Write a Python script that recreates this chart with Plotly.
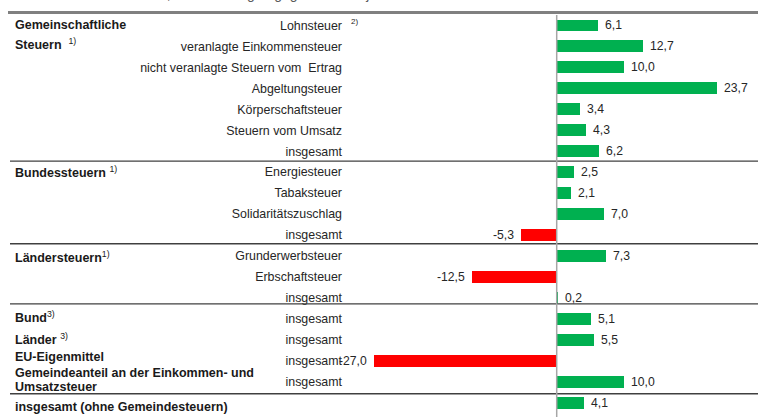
import plotly.graph_objects as go

# ---- data ----
categories = [
    "Lohnsteuer", "veranlagte Einkommensteuer", "nicht veranlagte Steuern vom\u00a0 Ertrag",
    "Abgeltungsteuer", "Körperschaftsteuer", "Steuern vom Umsatz", "insgesamt",
    "Energiesteuer", "Tabaksteuer", "Solidaritätszuschlag", "insgesamt",
    "Grunderwerbsteuer", "Erbschaftsteuer", "insgesamt",
    "insgesamt", "insgesamt", "insgesamt", "insgesamt", "",
]
values = [6.1, 12.7, 10.0, 23.7, 3.4, 4.3, 6.2,
          2.5, 2.1, 7.0, -5.3,
          7.3, -12.5, 0.2,
          5.1, 5.5, -27.0, 10.0, 4.1]
SUP = '<sup><span style="font-weight:normal">{}</span></sup>'
group_labels = [
    ("Gemeinschaftliche", 0.0),
    ("Steuern\u00a0\u00a0" + SUP.format("1)"), 0.88),
    ("Bundessteuern\u00a0" + SUP.format("1)"), 7.0),
    ("Ländersteuern" + SUP.format("1)"), 11.03),
    ("Bund" + SUP.format("3)"), 13.94),
    ("Länder\u00a0" + SUP.format("3)"), 14.95),
    ("EU-Eigenmittel", 15.82),
    ("Gemeindeanteil an der Einkommen- und", 16.6),
    ("Umsatzsteuer", 17.25),
    ("insgesamt (ohne Gemeindesteuern)", 18.22),
]
separators = [6.48, 10.42, 13.29, 17.58]
title_text = "Januar - November 2017, Veränderungen gegenüber Vorjahr in %"

# ---- layout constants ----
W, H = 758, 417
L, R, T, B = 350, 0, 15, 4
zero_px = 556.7
px_per_unit = 6.77
x_lo = (L - zero_px) / px_per_unit
x_hi = (W - R - zero_px) / px_per_unit
plot_w = W - L - R
plot_h = H - T - B
GREEN, RED = "#00B050", "#FF0000"
FONT = "Liberation Sans, Arial, sans-serif"


def px_to_paper_x(px):
    return (px - L) / plot_w


def px_to_paper_y(py):
    return 1 - (py - T) / plot_h


def fmt(v):
    return f"{v:.1f}".replace(".", ",")


ys = list(range(len(values)))

fig = go.Figure()
fig.add_trace(go.Bar(
    x=values, y=ys, orientation="h", width=0.57,
    marker=dict(color=[GREEN if v >= 0 else RED for v in values], line=dict(width=0)),
    hoverinfo="skip",
))

annotations = []
# value labels
for v, y in zip(values, ys):
    annotations.append(dict(
        x=v, y=y, xref="x", yref="y", text=fmt(v), showarrow=False,
        xanchor="left" if v >= 0 else "right", xshift=5 if v >= 0 else -5,
        font=dict(family=FONT, size=12.2, color="#262626"),
    ))
# group labels
for txt, yy in group_labels:
    annotations.append(dict(
        x=px_to_paper_x(13), y=yy, xref="paper", yref="y", text=txt, showarrow=False,
        xanchor="left", yanchor="middle",
        font=dict(family=FONT, size=12.5, color="#1a1a1a", weight="bold"),
    ))
# footnote on Lohnsteuer
annotations.append(dict(
    x=px_to_paper_x(349), y=0, xref="paper", yref="y", text="2)", showarrow=False,
    xanchor="left", yanchor="middle", yshift=4,
    font=dict(family=FONT, size=8, color="#262626"),
))
# top partially visible title
annotations.append(dict(
    x=px_to_paper_x(10), y=1, xref="paper", yref="paper", text=title_text, showarrow=False,
    xanchor="left", yanchor="bottom", yshift=11,
    font=dict(family=FONT, size=14, color="#595959"),
))

shapes = []
# top thick line
shapes.append(dict(type="line", xref="paper", yref="paper",
                   x0=px_to_paper_x(8), x1=1, y0=px_to_paper_y(12.5), y1=px_to_paper_y(12.5),
                   line=dict(color="#808080", width=3)))
# separators
for s in separators:
    shapes.append(dict(type="line", xref="paper", yref="y",
                       x0=px_to_paper_x(10), x1=1, y0=s, y1=s,
                       line=dict(color="#404040", width=1.3)))
# zero line
shapes.append(dict(type="line", xref="x", yref="paper", x0=0, x1=0,
                   y0=px_to_paper_y(417), y1=px_to_paper_y(15),
                   line=dict(color="#a6a6a6", width=1.5), layer="above"))

fig.update_layout(
    width=W, height=H,
    margin=dict(l=L, r=R, t=T, b=B, pad=0),
    paper_bgcolor="white", plot_bgcolor="white",
    showlegend=False,
    separators=",.",
    bargap=0,
    xaxis=dict(range=[x_lo, x_hi], visible=False, fixedrange=True),
    yaxis=dict(range=[len(values) - 0.5, -0.5], tickvals=ys, ticktext=categories,
               showgrid=False, zeroline=False, showline=False, ticks="",
               automargin=False, ticklabelstandoff=7,
               tickfont=dict(family=FONT, size=12.4, color="#262626")),
    annotations=annotations,
    shapes=shapes,
    font=dict(family=FONT),
)

fig.write_html("out.html", config={"displayModeBar": False},
               post_script="document.body.style.margin='0';document.body.style.overflow='hidden';")
